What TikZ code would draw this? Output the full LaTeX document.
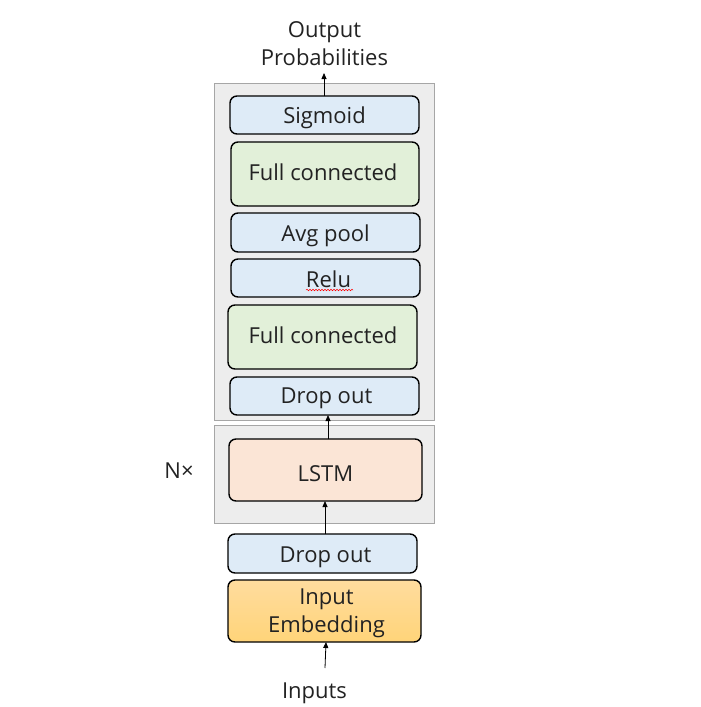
\documentclass[tikz,border=0pt]{standalone}
\usepackage{fontspec}
\setmainfont{Open Sans}
\usetikzlibrary{arrows.meta,decorations.pathmorphing}
\definecolor{grayfill}{HTML}{EDEDED}
\definecolor{grayline}{HTML}{A6A6A6}
\definecolor{bluefill}{HTML}{DEEBF7}
\definecolor{greenfill}{HTML}{E2F0D9}
\definecolor{orangefill}{HTML}{FBE5D6}
\definecolor{embtop}{HTML}{FFDC9E}
\definecolor{embbot}{HTML}{FFD479}
\definecolor{txt}{HTML}{222222}
\tikzset{
  grp/.style={draw=grayline, fill=grayfill, line width=1pt},
  layer/.style={draw=black, line width=1.4pt, rounded corners=7pt},
  lbl/.style={font=\fontsize{22}{28}\selectfont, text=txt, anchor=base, inner sep=0pt},
  arr/.style={-{Triangle[length=6pt,width=5pt]}, line width=0.8pt},
}
\begin{document}
\begin{tikzpicture}[x=1pt,y=-1pt]
\useasboundingbox (0,0) rectangle (701,707);
% group boxes
\draw[grp] (214,83) rectangle (434,420);
\draw[grp] (214,425) rectangle (434,523);
% layers
\draw[layer, fill=bluefill] (230,96) rectangle (419,134);
\node[lbl] (sig) at (324.5,123) {Sigmoid};
\draw[layer, fill=greenfill] (231,142) rectangle (419,206);
\node[lbl] (fc1) at (323,180) {Full connected};
\draw[layer, fill=bluefill] (231,213) rectangle (420,252);
\node[lbl] (avg) at (325.5,241) {Avg pool};
\draw[layer, fill=bluefill] (231,259) rectangle (420,297);
\node[lbl] (relu) at (328.5,287) {Relu};
\draw[red, line width=0.5pt, decorate, decoration={snake, amplitude=0.8pt, segment length=3pt}] (306,290) -- (353,290);
\draw[layer, fill=greenfill] (228,305) rectangle (417,369);
\node[lbl] (fc2) at (323,343) {Full connected};
\draw[layer, fill=bluefill] (230,377) rectangle (419,415);
\node[lbl] (do1) at (326.5,403) {Drop out};
\draw[layer, fill=orangefill] (229,439) rectangle (422,501);
\node[lbl] (lstm) at (325.5,481) {LSTM};
\draw[layer, fill=bluefill] (228,534) rectangle (417,573);
\node[lbl] (do2) at (325.5,562) {Drop out};
\draw[layer, top color=embtop, bottom color=embbot] (228,580) rectangle (421,642);
\node[lbl] (emb1) at (326.5,604) {Input};
\node[lbl] (emb2) at (326.5,632) {Embedding};
% texts
\node[lbl] (out1) at (324.5,37) {Output};
\node[lbl] (out2) at (324.5,65) {Probabilities};
\node[lbl] (inp) at (314.5,698) {Inputs};
\node[lbl] (nx) at (179,478) {N×};
% arrows
\coordinate (a1s) at (324,96);
\coordinate (a1e) at (324,73);
\draw[arr] (a1s) -- (a1e);
\coordinate (a2s) at (328,439);
\coordinate (a2e) at (328,415);
\draw[arr] (a2s) -- (a2e);
\coordinate (a3s) at (325,534);
\coordinate (a3e) at (325,501);
\draw[arr] (a3s) -- (a3e);
\coordinate (a4s) at (325,668);
\coordinate (a4e) at (326,642);
\draw[arr] (a4s) -- (a4e);
\end{tikzpicture}
\end{document}
